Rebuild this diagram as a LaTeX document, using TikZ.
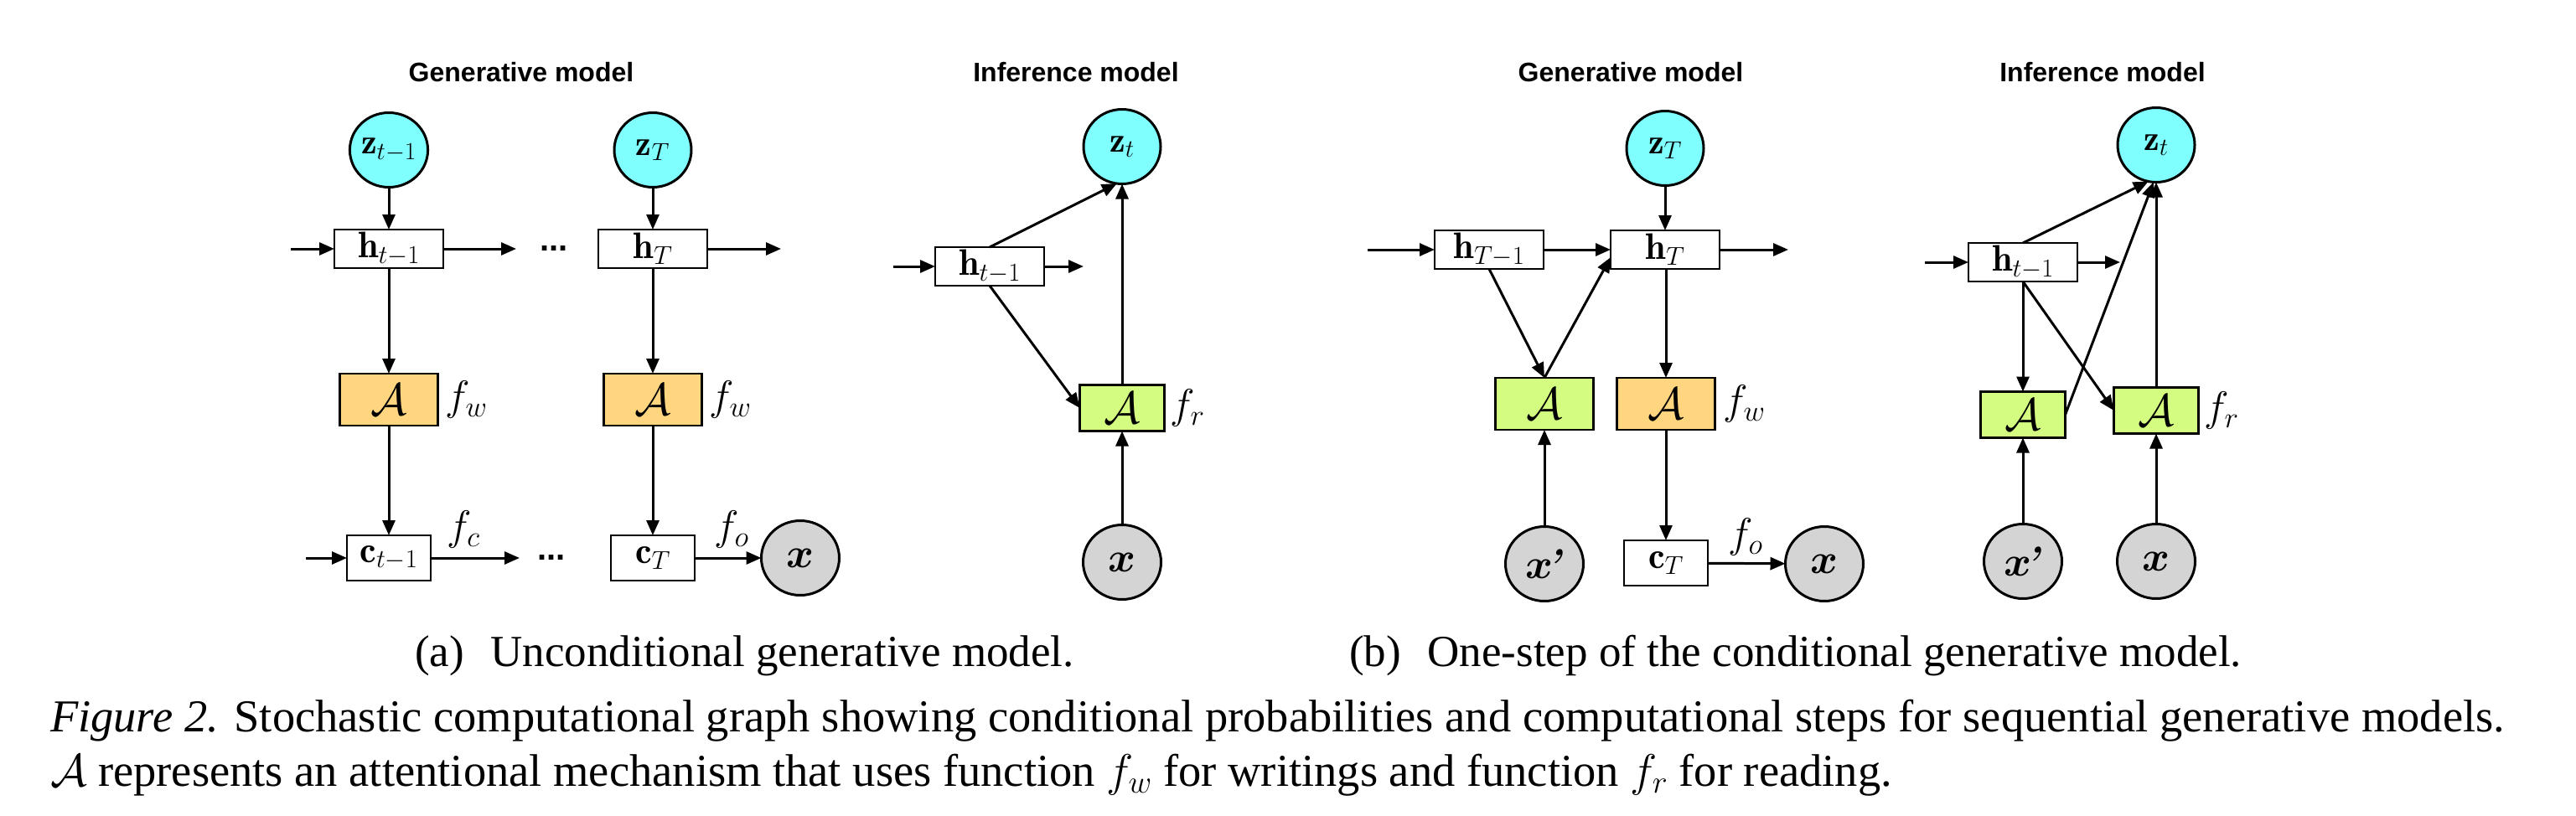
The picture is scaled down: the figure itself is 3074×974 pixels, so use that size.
\RequirePackage{fix-cm}
\documentclass[tikz,border=0pt]{standalone}
\usepackage{bm}
\usepackage{fontspec}
\newfontfamily\sansb{Liberation Sans}
\newfontfamily\capf{Liberation Serif}
\usetikzlibrary{arrows.meta,shapes.geometric}
\definecolor{zcyan}{HTML}{80FFFF}
\definecolor{worange}{HTML}{FFD580}
\definecolor{rgreen}{HTML}{D4FC80}
\definecolor{obsgray}{HTML}{D4D4D4}
\begin{document}
\begin{tikzpicture}[x=1pt,y=-1pt,
  every node/.style={inner sep=0pt, outer sep=0pt},
  arr/.style={-{Triangle[length=18pt,width=15pt]}, line width=3pt},
  latent/.style={ellipse, draw, line width=3pt, fill=zcyan, minimum width=92pt, minimum height=89pt, font=\fontsize{42}{50}\selectfont},
  obs/.style={ellipse, draw, line width=3pt, fill=obsgray, minimum width=93pt, minimum height=89pt, font=\fontsize{50}{60}\selectfont},
  hbox/.style={rectangle, draw, line width=2.8pt, fill=white, minimum width=130pt, minimum height=46pt, font=\fontsize{44}{50}\selectfont},
  cbox/.style={rectangle, draw, line width=2.8pt, fill=white, minimum width=100pt, minimum height=54pt, font=\fontsize{44}{50}\selectfont},
  wbox/.style={rectangle, draw, line width=2.8pt, fill=worange, minimum width=117pt, minimum height=62pt, font=\fontsize{54}{60}\selectfont},
  gbox/.style={rectangle, draw, line width=2.8pt, fill=rgreen, minimum width=117pt, minimum height=62pt, font=\fontsize{54}{60}\selectfont},
  rbox/.style={rectangle, draw, line width=2.8pt, fill=rgreen, minimum width=101pt, minimum height=55pt, font=\fontsize{54}{60}\selectfont},
  lab/.style={font=\fontsize{50}{60}\selectfont},
  dotsl/.style={font=\sansb\bfseries\fontsize{40}{48}\selectfont},
  ttl/.style={font=\sansb\bfseries\fontsize{32}{38}\selectfont},
  subcapt/.style={font=\capf\fontsize{53}{62}\selectfont},
  capt/.style={font=\capf\fontsize{54.5}{64}\selectfont}
]
\useasboundingbox (0,0) rectangle (3074,974);

% titles
\node[ttl, anchor=base] (t1) at (622,98) {Generative model};
\node[ttl, anchor=base] (t2) at (1284,98) {Inference model};
\node[ttl, anchor=base] (t3) at (1946,98) {Generative model};
\node[ttl, anchor=base] (t4) at (2509,98) {Inference model};

% ---------- (a) generative ----------
\node[latent] (z1) at (464,179) {$\mathbf{z}_{t-1}$};
\node[latent] (z2) at (779,179) {$\mathbf{z}_{T}$};
\node[hbox] (h1) at (464,297) {$\mathbf{h}_{t-1}$};
\node[hbox] (h2) at (779,297) {$\mathbf{h}_{T}$};
\node[wbox] (a1) at (464,477) {$\mathcal{A}$};
\node[wbox] (a2) at (779,477) {$\mathcal{A}$};
\node[cbox] (c1) at (464,666) {$\mathbf{c}_{t-1}$};
\node[cbox] (c2) at (779,666) {$\mathbf{c}_{T}$};
\node[obs] (x1) at (955,666) {$\bm{x}$};
\node[lab, anchor=west] (fw1) at ([xshift=9pt]a1.east) {$f_w$};
\node[lab, anchor=west] (fw2) at ([xshift=9pt]a2.east) {$f_w$};
\node[lab] (fc) at (553,632) {$f_c$};
\node[lab] (fo1) at (873,632) {$f_o$};
\node[dotsl] (d1) at (661,297) {...};
\node[dotsl] (d2) at (658,666) {...};
\coordinate (in1) at (347,297);
\coordinate (out1) at (616,297);
\coordinate (out2) at (932,297);
\coordinate (in2) at (365,666);
\coordinate (out3) at (620,666);

\draw[arr] (z1) -- (h1);
\draw[arr] (z2) -- (h2);
\draw[arr] (in1) -- (h1.west);
\draw[arr] (h1.east) -- (out1);
\draw[arr] (h2.east) -- (out2);
\draw[arr] (h1) -- (a1);
\draw[arr] (h2) -- (a2);
\draw[arr] (a1) -- (c1);
\draw[arr] (a2) -- (c2);
\draw[arr] (in2) -- (c1.west);
\draw[arr] (c1.east) -- (out3);
\draw[arr] (c2) -- (x1);

% ---------- (a) inference ----------
\node[latent] (z3) at (1339,175) {$\mathbf{z}_{t}$};
\node[hbox] (h3) at (1181,318) {$\mathbf{h}_{t-1}$};
\node[rbox] (a3) at (1339,487) {$\mathcal{A}$};
\node[obs] (x2) at (1339,671) {$\bm{x}$};
\node[lab, anchor=west] (fr1) at ([xshift=7pt]a3.east) {$f_r$};
\coordinate (in3) at (1066,318);
\coordinate (out4) at (1293,318);

\draw[arr] (in3) -- (h3.west);
\draw[arr] (h3.east) -- (out4);
\draw[arr] (h3.north) -- (z3.262);
\draw[arr] (h3.south) -- (a3.west);
\draw[arr] (a3) -- (z3);
\draw[arr] (x2) -- (a3);

% ---------- (b) generative ----------
\node[latent] (z4) at (1987,177) {$\mathbf{z}_{T}$};
\node[hbox] (h4) at (1777,298) {$\mathbf{h}_{T-1}$};
\node[hbox] (h5) at (1987,298) {$\mathbf{h}_{T}$};
\node[gbox] (a4) at (1843,482) {$\mathcal{A}$};
\node[wbox] (a5) at (1988,482) {$\mathcal{A}$};
\node[cbox] (c3) at (1988,672) {$\mathbf{c}_{T}$};
\node[obs] (xp1) at (1843,673) {$\bm{x}$\kern-9pt\textbf{\textit{’}}};
\node[obs] (x3) at (2177,673) {$\bm{x}$};
\node[lab, anchor=west] (fw3) at ([xshift=10pt]a5.east) {$f_w$};
\node[lab] (fo2) at (2083,641) {$f_o$};
\coordinate (in4) at (1632,298);
\coordinate (out5) at (2134,298);

\draw[arr] (in4) -- (h4.west);
\draw[arr] (h4.east) -- (h5.west);
\draw[arr] (h5.east) -- (out5);
\draw[arr] (z4) -- (h5);
\draw[arr] (h4.south) -- (a4.north);
\draw[arr] (a4.north) -- (h5.188);
\draw[arr] (h5.south -| a5) -- (a5);
\draw[arr] (a5) -- (c3);
\draw[arr] (c3) -- (x3);
\draw[arr] (xp1) -- (a4);

% ---------- (b) inference ----------
\node[latent] (z5) at (2573,173) {$\mathbf{z}_{t}$};
\node[hbox] (h6) at (2414,313) {$\mathbf{h}_{t-1}$};
\node[rbox] (a6) at (2414,495) {$\mathcal{A}$};
\node[rbox] (a7) at (2573,490) {$\mathcal{A}$};
\node[obs] (xp2) at (2414,670) {$\bm{x}$\kern-9pt\textbf{\textit{’}}};
\node[obs] (x4) at (2573,670) {$\bm{x}$};
\node[lab, anchor=west] (fr2) at ([xshift=7pt]a7.east) {$f_r$};
\coordinate (in5) at (2297,313);
\coordinate (out6) at (2530,313);

\draw[arr] (in5) -- (h6.west);
\draw[arr] (h6.east) -- (out6);
\draw[arr] (h6.north) -- (z5.258);
\draw[arr] (h6.south) -- (a6.north);
\draw[arr] (h6.south) -- (a7.west);
\draw[arr] (a6.east) -- (z5.266);
\draw[arr] (a7) -- (z5);
\draw[arr] (xp2) -- (a6);
\draw[arr] (x4) -- (a7);

% ---------- captions ----------
\node[subcapt, anchor=base west] (capa) at (495,795) {(a)\hspace{0.6em}Unconditional generative model.};
\node[subcapt, anchor=base west] (capb) at (1610,795) {(b)\hspace{0.6em}One-step of the conditional generative model.};
\node[capt, anchor=base west] (cap1) at (60,873) {\hbox to 2929pt{\textit{Figure 2.} Stochastic computational graph showing conditional probabilities and computational steps for sequential generative models.}};
\node[capt, anchor=base west] (cap2) at (60,938) {$\mathcal{A}$ represents an attentional mechanism that uses function $f_w$ for writings and function $f_r$ for reading.};
\end{tikzpicture}
\end{document}
